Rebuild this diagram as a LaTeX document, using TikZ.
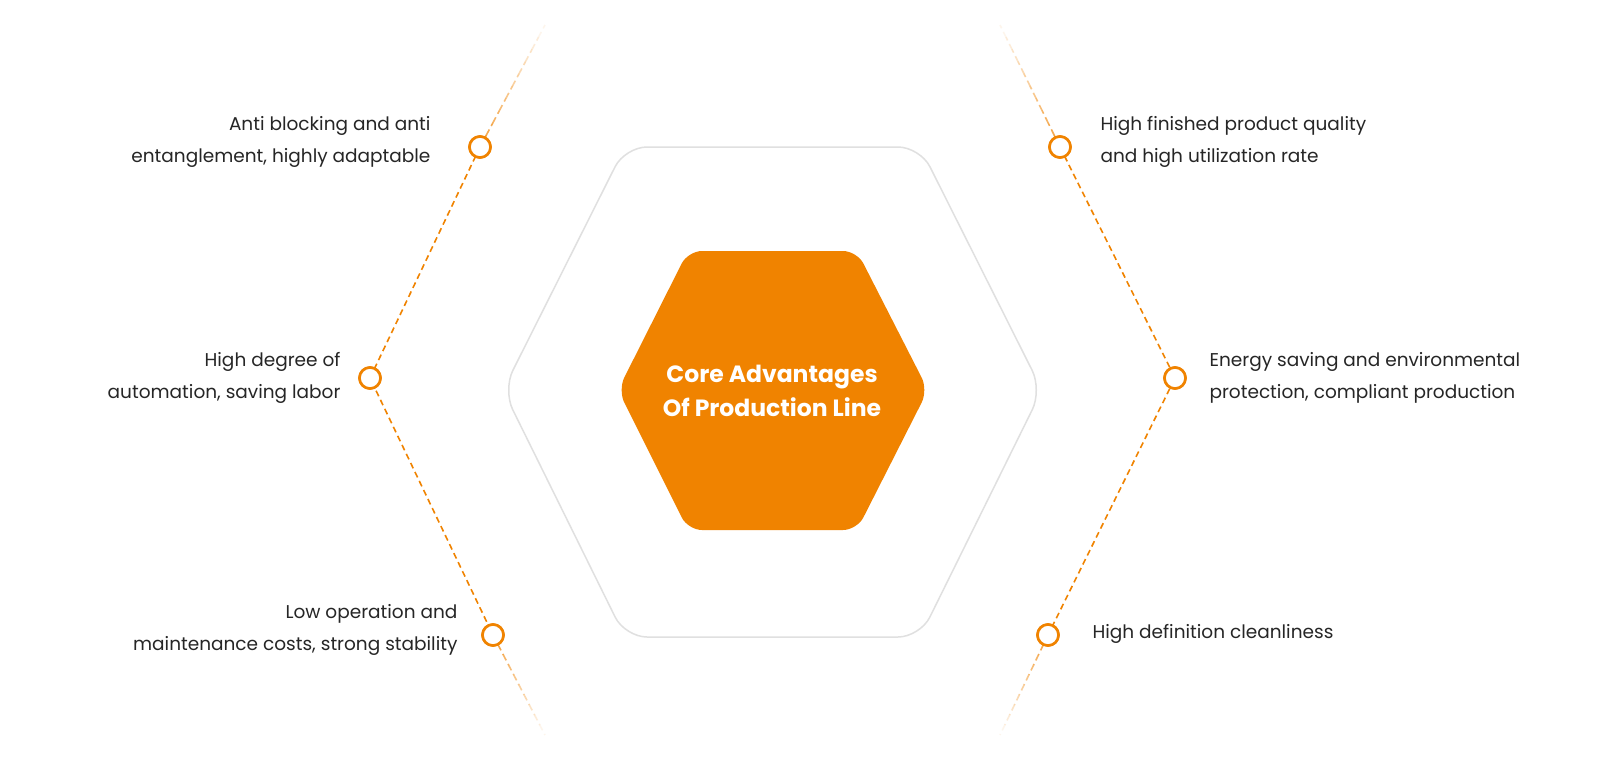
\documentclass[tikz,border=0pt]{standalone}
\usepackage{fontspec}
\setmainfont{Poppins}
\usetikzlibrary{calc}
\begin{document}
\begin{tikzpicture}[x=1pt,y=-1pt,
  conn/.style={draw=orc,line width=1.6pt,dash pattern=on 6pt off 4pt},
  dot/.style={circle,draw=orc,line width=2.6pt,fill=white,minimum size=21pt,inner sep=0pt},
  lab/.style={font=\fontsize{18.5}{32}\selectfont,text=black!85,align=left},
  labr/.style={font=\fontsize{18.5}{32}\selectfont,text=black!85,align=right}]
\definecolor{orc}{HTML}{F08300}
\useasboundingbox (0,0) rectangle (1600,764);
\fill[white] (0,0) rectangle (1600,764);
% outer hexagon
\draw[black!12,line width=1.5pt,rounded corners=22pt] (625,147)--(920,147)--(1042,390)--(920,637)--(625,637)--(503,390)--cycle;
% inner hexagon
\fill[orc,rounded corners=14pt] (688,251)--(857,251)--(928,390)--(857,530)--(688,530)--(618,390)--cycle;
\node[text=white,align=center,font=\fontsize{23.5}{34}\selectfont\bfseries] (core) at (772,391) {Core Advantages\\Of Production Line};
% dots
\node[dot] (a) at (480,147) {};
\node[dot] (b) at (370,378) {};
\node[dot] (c) at (493,635) {};
\node[dot] (d) at (1060,147) {};
\node[dot] (e) at (1175,378) {};
\node[dot] (f) at (1048,635) {};
\coordinate (at) at (545,25);
\coordinate (cb) at (545,735);
\coordinate (dt) at (1000,25);
\coordinate (fb) at (1000,735);
\draw[conn] (a.center)--(b.center)--(c.center);
\draw[conn] (d.center)--(e.center)--(f.center);
\foreach \s/\t in {a/at,c/cb,d/dt,f/fb}{
  \foreach \i in {0,...,9}{
    \pgfmathsetmacro\op{0.75-0.075*\i}
    \draw[conn,draw opacity=\op] ($(\s.center)!\i/10!(\t)$)--($(\s.center)!\i/10+0.1!(\t)$);
  }}
\foreach \n in {a,b,c,d,e,f}{\node[dot] at (\n) {};}
% labels
\node[labr,anchor=east] (ta) at (434,142) {Anti blocking and anti\\entanglement, highly adaptable};
\node[labr,anchor=east] (tb) at (344,378) {High degree of\\automation, saving labor};
\node[labr,anchor=east] (tc) at (461,630) {Low operation and\\maintenance costs, strong stability};
\node[lab,anchor=west] (td) at (1097,142) {High finished product quality\\and high utilization rate};
\node[lab,anchor=west] (te) at (1206,378) {Energy saving and environmental\\protection, compliant production};
\node[lab,anchor=west] (tf) at (1089,634) {High definition cleanliness};
\end{tikzpicture}
\end{document}
